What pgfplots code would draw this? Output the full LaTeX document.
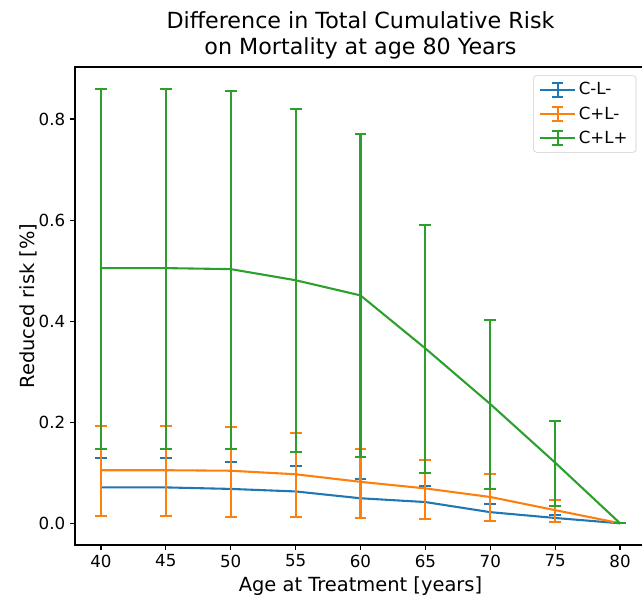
\documentclass[border=0pt]{standalone}
\usepackage{pgfplots}
\pgfplotsset{compat=1.18}
\usepackage{pgfplotstable}
\usepackage{fontspec}
\setmainfont{DejaVu Sans}
\definecolor{tabblue}{HTML}{1F77B4}
\definecolor{taborange}{HTML}{FF7F0E}
\definecolor{tabgreen}{HTML}{2CA02C}
\pgfplotstableread{
x y ep em
40 0.071 0.058 0.056
45 0.071 0.058 0.056
50 0.068 0.053 0.055
55 0.063 0.050 0.050
60 0.0495 0.0385 0.0385
65 0.042 0.031 0.033
70 0.022 0.016 0.017
75 0.0105 0.0065 0.0075
80 0 0 0
}\blue
\pgfplotstableread{
x y ep em
40 0.105 0.088 0.090
45 0.105 0.088 0.090
50 0.104 0.087 0.091
55 0.097 0.081 0.084
60 0.082 0.065 0.071
65 0.069 0.056 0.060
70 0.052 0.045 0.047
75 0.026 0.020 0.023
80 0 0 0
}\orange
\pgfplotstableread{
x y ep em
40 0.505 0.354 0.358
45 0.505 0.354 0.358
50 0.503 0.352 0.356
55 0.481 0.339 0.340
60 0.451 0.319 0.319
65 0.346 0.244 0.246
70 0.236 0.167 0.168
75 0.120 0.082 0.086
80 0 0 0
}\green
\begin{document}
\begin{tikzpicture}
\begin{axis}[
  at={(0,0)}, anchor=south west,
  scale only axis, width=411.12pt, height=344.16pt,
  xmin=38, xmax=82, ymin=-0.043, ymax=0.903,
  xtick={40,45,...,80}, ytick={0,0.2,...,0.8},
  minor tick num=0,
  tick align=outside, major tick length=3.5pt,
  xtick pos=lower, ytick pos=lower,
  tick style={black, line width=0.8pt},
  axis line style={line width=0.8pt},
  /pgf/number format/assume math mode=true,
  ticklabel style={font=\fontsize{12}{14}\selectfont},
  yticklabel style={/pgf/number format/.cd, fixed, fixed zerofill, precision=1},
  xlabel={Age at Treatment [years]},
  ylabel={Reduced risk [\%]},
  label style={font=\fontsize{14}{17}\selectfont},
  ylabel style={yshift=-6pt},
  title={Difference in Total Cumulative Risk\\on Mortality at age 80 Years},
  title style={align=center, font=\fontsize{16}{18.7}\selectfont, yshift=-3.6pt},
  legend style={at={(rel axis cs:1,1)}, anchor=north east, xshift=-7pt, yshift=-6pt,
    draw=black!20, rounded corners=2pt, fill=white, fill opacity=0.8, text opacity=1,
    font=\fontsize{12}{14}\selectfont, inner xsep=4pt, inner ysep=3pt, row sep=3pt},
  legend cell align=left,
  legend image code/.code={
    \draw[#1] (0pt,0pt) -- (25pt,0pt);
    \draw[#1] (12.5pt,-5pt) -- (12.5pt,5pt);
    \draw[#1] (8.5pt,5pt) -- (16.5pt,5pt);
    \draw[#1] (8.5pt,-5pt) -- (16.5pt,-5pt);
  },
  every axis plot/.append style={line width=1.5pt, mark=none},
  error bars/y dir=both, error bars/y explicit,
  error bars/error mark options={rotate=90, mark size=4.3pt, line width=1.5pt},
]
\addplot[tabblue, error bars/error bar style={tabblue, line width=1.5pt}] table[x=x, y=y, y error plus=ep, y error minus=em] {\blue};
\addlegendentry{C-L-}
\addplot[taborange, error bars/error bar style={taborange, line width=1.5pt}] table[x=x, y=y, y error plus=ep, y error minus=em] {\orange};
\addlegendentry{C+L-}
\addplot[tabgreen, error bars/error bar style={tabgreen, line width=1.5pt}] table[x=x, y=y, y error plus=ep, y error minus=em] {\green};
\addlegendentry{C+L+}
\end{axis}
\pgfresetboundingbox
\useasboundingbox (-54pt,-36.72pt) rectangle (408.24pt,392.4pt);
\end{tikzpicture}
\end{document}
